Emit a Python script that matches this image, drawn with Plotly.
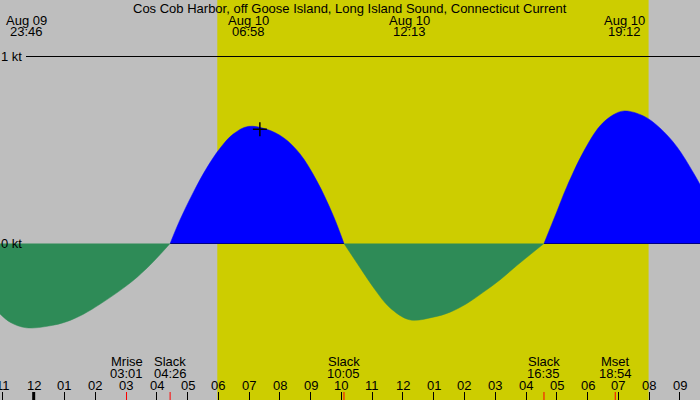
import plotly.graph_objects as go

# current readings (knots), flood positive / ebb negative
times = [
    "2023-08-09 22:54", "2023-08-09 23:14", "2023-08-09 23:46", "2023-08-10 00:32",
    "2023-08-10 01:04", "2023-08-10 01:37", "2023-08-10 02:09", "2023-08-10 02:42",
    "2023-08-10 03:14", "2023-08-10 03:47", "2023-08-10 04:26",
    "2023-08-10 04:45", "2023-08-10 05:11", "2023-08-10 05:37", "2023-08-10 06:03",
    "2023-08-10 06:29", "2023-08-10 06:58", "2023-08-10 07:34", "2023-08-10 08:07",
    "2023-08-10 08:39", "2023-08-10 09:12", "2023-08-10 09:44", "2023-08-10 10:05",
    "2023-08-10 10:37", "2023-08-10 11:05", "2023-08-10 11:34",
    "2023-08-10 12:13", "2023-08-10 12:59", "2023-08-10 13:32", "2023-08-10 14:04",
    "2023-08-10 14:37", "2023-08-10 15:09", "2023-08-10 15:42", "2023-08-10 16:35",
    "2023-08-10 17:00", "2023-08-10 17:19", "2023-08-10 17:52", "2023-08-10 18:24",
    "2023-08-10 18:50", "2023-08-10 19:12", "2023-08-10 19:49", "2023-08-10 20:21",
    "2023-08-10 20:54", "2023-08-10 21:26", "2023-08-10 21:40",
]
speed = [
    -0.376, -0.421, -0.451, -0.440,
    -0.418, -0.378, -0.325, -0.264,
    -0.198, -0.115, 0.0,
    0.125, 0.272, 0.402, 0.508,
    0.585, 0.626, 0.611, 0.566,
    0.480, 0.335, 0.150, 0.0,
    -0.132, -0.245, -0.342,
    -0.408, -0.394, -0.367, -0.322,
    -0.260, -0.195, -0.118, 0.0,
    0.170, 0.300, 0.490, 0.628,
    0.688, 0.709, 0.682, 0.618,
    0.518, 0.380, 0.312,
]

# max flood / max ebb labels at the top
extreme_times = ["2023-08-09 23:46", "2023-08-10 06:58", "2023-08-10 12:13", "2023-08-10 19:12"]
extreme_dates = ["Aug 09", "Aug 10", "Aug 10", "Aug 10"]
extreme_clock = ["23:46", "06:58", "12:13", "19:12"]

# slack water and moon events at the bottom
event_times = ["2023-08-10 03:01", "2023-08-10 04:26", "2023-08-10 10:05",
               "2023-08-10 16:35", "2023-08-10 18:54"]
event_names = ["Mrise", "Slack", "Slack", "Slack", "Mset"]
event_clock = ["03:01", "04:26", "10:05", "16:35", "18:54"]

hour_times = ["2023-08-09 23:00"] + ["2023-08-10 %02d:00" % h for h in range(22)]
hour_labels = ["11", "12", "01", "02", "03", "04", "05", "06", "07", "08", "09", "10",
               "11", "12", "01", "02", "03", "04", "05", "06", "07", "08", "09"]
midnight = "2023-08-10 00:00"

sunrise = "2023-08-10 05:58"
sunset = "2023-08-10 19:59"

now_time = ["2023-08-10 07:21"]
now_speed = [0.611]

x_range = ["2023-08-09 22:54:18", "2023-08-10 21:39:14"]
y_range = [-156.5 / 187, 243.5 / 187]

flood = [v if v >= 0 else None for v in speed]
ebb = [v if v <= 0 else None for v in speed]
zero_line = [0 if v >= 0 else None for v in speed]

FONT = "Liberation Sans"
fig = go.Figure()

fig.add_trace(go.Scatter(x=times, y=zero_line, mode="lines",
                         line=dict(color="black", width=1), hoverinfo="skip"))
fig.add_trace(go.Scatter(x=times, y=flood, mode="lines", fill="tozeroy",
                         fillcolor="#0000ff", line=dict(color="#0000ff", width=0.5, shape="spline"),
                         connectgaps=False))
fig.add_trace(go.Scatter(x=times, y=ebb, mode="lines", fill="tozeroy",
                         fillcolor="#2e8b57", line=dict(color="#2e8b57", width=0.5, shape="spline"),
                         connectgaps=False))
fig.add_trace(go.Scatter(x=now_time, y=now_speed, mode="markers",
                         marker=dict(symbol="cross-thin", size=10,
                                     line=dict(color="black", width=1.5))))

# daylight
fig.add_shape(type="rect", xref="x", yref="paper", x0=sunrise, x1=sunset, y0=0, y1=1,
              fillcolor="#cdcd00", line_width=0, layer="below")
# 1 kt line
fig.add_shape(type="line", xref="paper", yref="y", x0=26 / 700, x1=1, y0=1, y1=1,
              line=dict(color="black", width=1))
# thick midnight tick
fig.add_shape(type="line", xref="x", yref="paper", x0=midnight, x1=midnight,
              y0=0, y1=8 / 400, line=dict(color="black", width=3))
for t in event_times:
    fig.add_shape(type="line", xref="x", yref="paper", x0=t, x1=t, y0=0, y1=8 / 400,
                  line=dict(color="red", width=1))

txt = dict(family=FONT, size=13, color="black")
lbl = dict(showarrow=False, font=txt, yanchor="middle", borderpad=0)
fig.add_annotation(text="Cos Cob Harbor, off Goose Island, Long Island Sound, Connecticut Current",
                   xref="paper", yref="paper", x=0.5, y=1 - 8 / 400, **lbl)
for t, d, c in zip(extreme_times, extreme_dates, extreme_clock):
    fig.add_annotation(text=d, x=t, xref="x", yref="paper", y=1 - 20 / 400, **lbl)
    fig.add_annotation(text=c, x=t, xref="x", yref="paper", y=1 - 32 / 400, **lbl)
for t, n, c in zip(event_times, event_names, event_clock):
    fig.add_annotation(text=n, x=t, xref="x", yref="paper", y=1 - 361.5 / 400, **lbl)
    fig.add_annotation(text=c, x=t, xref="x", yref="paper", y=1 - 373.5 / 400, **lbl)
for t, lab in zip(hour_times, hour_labels):
    fig.add_annotation(text=lab, x=t, xref="x", yref="paper", y=1 - 385.5 / 400, **lbl)

fig.add_annotation(text="1 kt", xref="paper", x=0, xanchor="left", yref="y", y=1, **lbl)
fig.add_annotation(text="0 kt", xref="paper", x=0, xanchor="left", yref="y", y=0, **lbl)

fig.update_xaxes(range=x_range, tickvals=hour_times, ticks="inside", ticklen=8,
                 tickcolor="black", tickwidth=1, showticklabels=False,
                 showgrid=False, zeroline=False, showline=False)
fig.update_yaxes(range=y_range, showticklabels=False, showgrid=False, zeroline=False,
                 showline=False, ticks="")
fig.update_layout(width=700, height=400, margin=dict(l=0, r=0, t=0, b=0),
                  paper_bgcolor="#bebebe", plot_bgcolor="#bebebe",
                  showlegend=False, hovermode=False)

fig.write_html("out.html", config={"displayModeBar": False},
               post_script="document.body.style.margin='0';")
